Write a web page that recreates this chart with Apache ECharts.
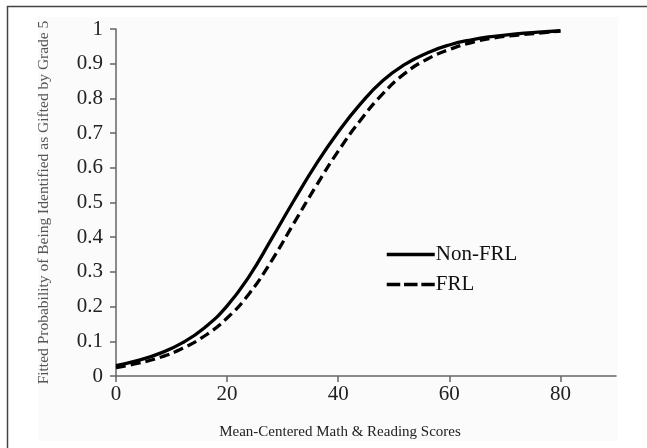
<!DOCTYPE html>
<html>
<head>
<meta charset="utf-8">
<script src="https://cdn.jsdelivr.net/npm/echarts@6/dist/echarts.min.js"></script>
<style>
html,body{margin:0;padding:0;background:#fff;}
#chart{width:647px;height:448px;}
</style>
</head>
<body>
<div id="chart"></div>
<script>
// Mean-centered scores (x values)
var scores = [0, 4, 8, 12, 16, 20, 24, 28, 32, 36, 40, 44, 48, 52, 56, 60, 64, 68, 72, 76, 80];
// Fitted probabilities
var nonFRL = [0.030, 0.045, 0.066, 0.096, 0.140, 0.202, 0.288, 0.395, 0.505, 0.610, 0.703, 0.784, 0.851, 0.898, 0.931, 0.954, 0.969, 0.979, 0.986, 0.991, 0.995];
var frl    = [0.024, 0.037, 0.054, 0.080, 0.116, 0.167, 0.238, 0.332, 0.440, 0.547, 0.648, 0.737, 0.813, 0.872, 0.913, 0.941, 0.961, 0.974, 0.982, 0.988, 0.994];
var xTicks = [0, 20, 40, 60, 80];
var seriesNames = ['Non-FRL', 'FRL'];

function pairs(xs, ys) { return xs.map(function (x, i) { return [x, ys[i]]; }); }

var serif = '"Liberation Serif", "DejaVu Serif", serif';
var hidden = {color: 'transparent', borderColor: 'transparent', borderWidth: 0};
var chart = echarts.init(document.getElementById('chart'), null, {renderer: 'canvas'});
chart.setOption({
  backgroundColor: '#ffffff',
  animation: false,
  graphic: [
    {type: 'rect', z: -10, shape: {x: 38, y: 17, width: 580, height: 424}, style: {fill: '#fbfbfb', stroke: null}},
    {type: 'rect', z: -5, shape: {x: 7.5, y: 6.5, width: 700, height: 500}, style: {fill: null, stroke: '#444', lineWidth: 1.5}}
  ],
  grid: {left: 116, top: 29, right: 31, bottom: 72, containLabel: false},
  legend: {
    orient: 'vertical',
    left: 380, top: 239,
    itemWidth: 48, itemHeight: 20, itemGap: 9,
    textStyle: {fontFamily: serif, fontSize: 21, color: '#111', padding: [0, 0, 0, -4]},
    data: [
      {name: seriesNames[0], itemStyle: hidden, lineStyle: {width: 3.5}},
      {name: seriesNames[1], itemStyle: hidden, lineStyle: {width: 3.5, type: [13.5, 3.8]}}
    ]
  },
  xAxis: {
    type: 'value', min: 0, max: 90, interval: 20,
    name: 'Mean-Centered Math & Reading Scores',
    nameLocation: 'middle', nameGap: 49,
    nameTextStyle: {fontFamily: serif, fontSize: 15, color: '#222', padding: [0, 52, 0, 0]},
    axisLine: {show: true, lineStyle: {color: '#666', width: 1.5}},
    axisTick: {show: true, length: 6, lineStyle: {color: '#666', width: 1.5}, customValues: xTicks},
    axisLabel: {fontFamily: serif, fontSize: 21, color: '#222', margin: 8, customValues: xTicks},
    splitLine: {show: false}
  },
  yAxis: {
    type: 'value', min: 0, max: 1, interval: 0.1,
    name: 'Fitted Probability of Being Identified as Gifted by Grade 5',
    nameLocation: 'middle', nameGap: 64,
    nameTextStyle: {fontFamily: serif, fontSize: 15.5, color: '#555'},
    axisLine: {show: true, lineStyle: {color: '#666', width: 1.5}},
    axisTick: {show: true, length: 6, lineStyle: {color: '#666', width: 1.5}},
    axisLabel: {fontFamily: serif, fontSize: 21, color: '#222', margin: 13},
    splitLine: {show: false}
  },
  series: [
    {
      name: seriesNames[0], type: 'line', smooth: true, symbol: 'none',
      data: pairs(scores, nonFRL),
      lineStyle: {color: '#000', width: 3.3, type: 'solid'},
      itemStyle: {color: '#000'}
    },
    {
      name: seriesNames[1], type: 'line', smooth: true, symbol: 'none',
      data: pairs(scores, frl),
      lineStyle: {color: '#000', width: 3.3, type: [10, 5]},
      itemStyle: {color: '#000'}
    }
  ]
});
</script>
</body>
</html>
